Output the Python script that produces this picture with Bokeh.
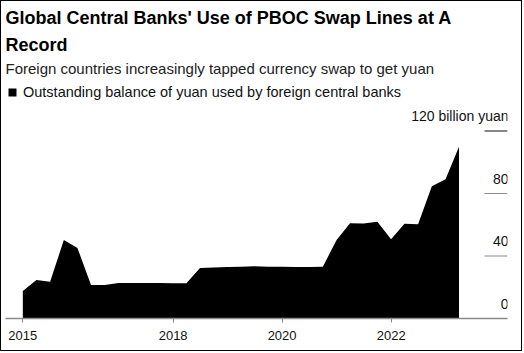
import pandas as pd
from math import pi
from bokeh.plotting import figure
from bokeh.models import (ColumnDataSource, Range1d, Label, Legend, LegendItem,
                          FixedTicker, DatetimeTickFormatter)
from bokeh.core.properties import value
from bokeh.embed import file_html
from bokeh.resources import INLINE

# ---- data (quarter-end, billion yuan) ----
quarters = pd.date_range("2015-03-31", "2023-03-31", freq="QE")
balance = [17.6, 24.7, 23.5, 50.3, 45.1, 21.5, 21.5, 22.7, 22.7, 22.7, 22.7, 22.5,
           22.6, 32.3, 32.7, 33.0, 33.2, 33.4, 33.2, 33.1, 33.0, 33.0, 33.2,
           50.2, 61.0, 60.8, 62.0, 50.8, 60.6, 60.3, 84.6, 89.2, 110.0]
series_label = "Outstanding balance of yuan used by foreign central banks"

x_ticks = ["2015-03-31", "2018-01-01", "2020-01-01", "2022-01-01"]
y_ticks = [0, 40, 80, 120]
y_tick_labels = ["0", "40", "80", "120 billion yuan"]

title1 = "Global Central Banks' Use of PBOC Swap Lines at A"
title2 = "Record"
subtitle = "Foreign countries increasingly tapped currency swap to get yuan"

FONT = "Liberation Sans"

src = ColumnDataSource(dict(date=quarters, value=balance))

x_start = pd.Timestamp("2014-12-05")
x_end = pd.Timestamp("2024-02-19")

p = figure(width=522, height=351, x_axis_type="datetime",
           x_range=Range1d(x_start, x_end), y_range=Range1d(0, 317 / 1.5625),
           output_backend="svg", toolbar_location=None, title=None,
           y_axis_location=None,
           min_border_left=4, min_border_right=16, min_border_top=0, min_border_bottom=34)
p.styles = {"border": "1px solid black"}
p.outline_line_color = None
p.xgrid.visible = False
p.ygrid.visible = False
p.background_fill_color = "white"
p.border_fill_color = "white"

area = p.varea(x="date", y1=0, y2="value", source=src, fill_color="black")

# x axis
ax = p.xaxis[0]
ax.ticker = FixedTicker(ticks=[pd.Timestamp(t).value / 1e6 for t in x_ticks])
fmt = "%Y"
ax.formatter = DatetimeTickFormatter(microseconds=fmt, milliseconds=fmt, seconds=fmt,
                                     minsec=fmt, minutes=fmt, hourmin=fmt, hours=fmt,
                                     days=fmt, months=fmt, years=fmt)
ax.axis_line_color = "#8a8a8a"
ax.axis_line_width = 1.5
ax.major_tick_line_color = "#8a8a8a"
ax.major_tick_out = 4
ax.major_tick_in = 0
ax.minor_tick_line_color = None
ax.major_label_text_font = FONT
ax.major_label_text_font_size = "13px"
ax.major_label_text_color = "#111111"
ax.major_label_standoff = 8

# y tick labels (right side, above short grid segments)
ysrc = ColumnDataSource(dict(x=[x_end] * len(y_ticks), y=y_ticks, text=y_tick_labels))
p.ray(x="x", y="y", length=23, angle=pi, length_units="screen",
      line_color="seg", line_width=1.2,
      source=ColumnDataSource(dict(x=[x_end] * 3, y=y_ticks[1:],
                                   seg=["#8a8a8a", "#8a8a8a", "#111111"])))
p.text(x="x", y="y", text="text", source=ysrc, text_align="right",
       text_baseline="alphabetic", y_offset=-15, x_offset=1,
       text_font=value(FONT), text_font_size="14px", text_color="#111111")

# titles
for txt, yy, size, style, col in [(title1, 300.7, "18px", "bold", "#000000"),
                                  (title2, 274.0, "18px", "bold", "#000000"),
                                  (subtitle, 250.0, "15px", "normal", "#222222")]:
    p.add_layout(Label(x=0, y=yy, x_units="screen", y_units="screen", text=txt,
                       text_font=FONT, text_font_size=size, text_font_style=style,
                       text_baseline="alphabetic", text_color=col))

legend = Legend(items=[LegendItem(label=series_label, renderers=[area])],
                location=(2, 218), padding=0, margin=0, spacing=0,
                glyph_width=10, glyph_height=10, label_standoff=6, label_height=10,
                label_text_font=FONT, label_text_font_size="14.5px",
                label_text_color="#111111",
                border_line_color=None, background_fill_alpha=0)
p.add_layout(legend)

open("out.html", "w").write(file_html(p, INLINE))
